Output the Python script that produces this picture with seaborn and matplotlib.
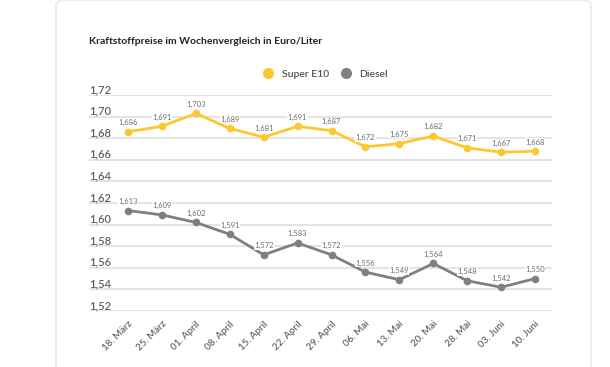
"""Kraftstoffpreise im Wochenvergleich: Super E10 vs Diesel."""

import matplotlib.pyplot as plt
import pandas as pd
import seaborn as sns
from matplotlib.patches import FancyBboxPatch

# === Daten ===
WOCHEN = ["18. März", "25. März", "01. April", "08. April", "15. April",
          "22. April", "29. April", "06. Mai", "13. Mai", "20. Mai",
          "28. Mai", "03. Juni", "10. Juni"]
SUPER_E10 = [1.686, 1.691, 1.703, 1.689, 1.681, 1.691, 1.687,
             1.672, 1.675, 1.682, 1.671, 1.667, 1.668]
DIESEL = [1.613, 1.609, 1.602, 1.591, 1.572, 1.583, 1.572,
          1.556, 1.549, 1.564, 1.548, 1.542, 1.550]
Y_TICKS = [1.52, 1.54, 1.56, 1.58, 1.60, 1.62, 1.64, 1.66, 1.68, 1.70, 1.72]

FARBEN = {"Super E10": "#fdc82f", "Diesel": "#808080"}

sns.set_theme(style="white")
plt.rcParams["font.family"] = ["Lato", "DejaVu Sans"]

df = pd.concat([
    pd.DataFrame({"woche": WOCHEN, "preis": SUPER_E10, "sorte": "Super E10"}),
    pd.DataFrame({"woche": WOCHEN, "preis": DIESEL, "sorte": "Diesel"}),
])

fig = plt.figure(figsize=(6.1, 3.67), dpi=100)
ax = fig.add_axes([89 / 610, 1 - 311 / 367, 463 / 610, 216 / 367])

# Hintergrundkarte mit hellgrauem Rand
card = FancyBboxPatch((56 / 610, -0.2), 535 / 610, 1.2,
                      boxstyle="round,pad=0,rounding_size=0.015",
                      transform=fig.transFigure, facecolor="white",
                      edgecolor="#ebebeb", linewidth=1.2, zorder=-10)
fig.patches.append(card)

sns.lineplot(data=df, x="woche", y="preis", hue="sorte", palette=FARBEN,
             marker="o", markersize=5.5, markeredgewidth=0, linewidth=2,
             ax=ax, legend=False, zorder=3)

# Datenbeschriftungen
for werte, farbe in [(SUPER_E10, FARBEN["Super E10"]), (DIESEL, FARBEN["Diesel"])]:
    for i, v in enumerate(werte):
        ax.annotate(f"{v:.3f}".replace(".", ","), (i, v), xytext=(0, 4),
                    textcoords="offset points", ha="center", va="bottom",
                    fontsize=5.5, color="#707070", zorder=4,
                    bbox=dict(facecolor="white", edgecolor="none", pad=0.3))

ax.set_xlim(-1.15, 12.5)
ax.set_ylim(1.52, 1.72)
ax.set_yticks(Y_TICKS)
ax.set_yticklabels([])
ax.tick_params(axis="y", length=0)
ax.grid(axis="y", color="#e2e2e2", linewidth=1.3)
ax.set_axisbelow(True)
for s in ax.spines.values():
    s.set_visible(False)

# y-Beschriftungen links über den Gitterlinien
for t in Y_TICKS:
    ax.text(0, t, f"{t:.2f}".replace(".", ","), transform=ax.get_yaxis_transform(),
            ha="left", va="bottom", fontsize=8, color="#606060",
            fontweight="semibold")

ax.set_xticks(range(len(WOCHEN)))
ax.set_xticklabels(WOCHEN, rotation=45, ha="right", rotation_mode="anchor",
                   fontsize=7, color="#606060", fontweight="semibold")
ax.tick_params(axis="x", length=0, pad=6)
ax.set_xlabel("")
ax.set_ylabel("")

# Legende
handles = [plt.Line2D([], [], marker="o", linestyle="", markersize=8,
                      markerfacecolor=c, markeredgewidth=0) for c in FARBEN.values()]
fig.legend(handles, list(FARBEN.keys()), loc="center",
           bbox_to_anchor=(323 / 610, 1 - 74 / 367), ncol=2, frameon=False,
           fontsize=7.5, handletextpad=0.3, columnspacing=0.6,
           labelcolor="#505050", prop={"weight": "semibold", "size": 7.5})

fig.text(89 / 610, 1 - 42 / 367, "Kraftstoffpreise im Wochenvergleich in Euro/Liter",
         ha="left", va="center", fontsize=7.5, fontweight="bold", color="#222222")

fig.savefig("out.png", dpi=100)
